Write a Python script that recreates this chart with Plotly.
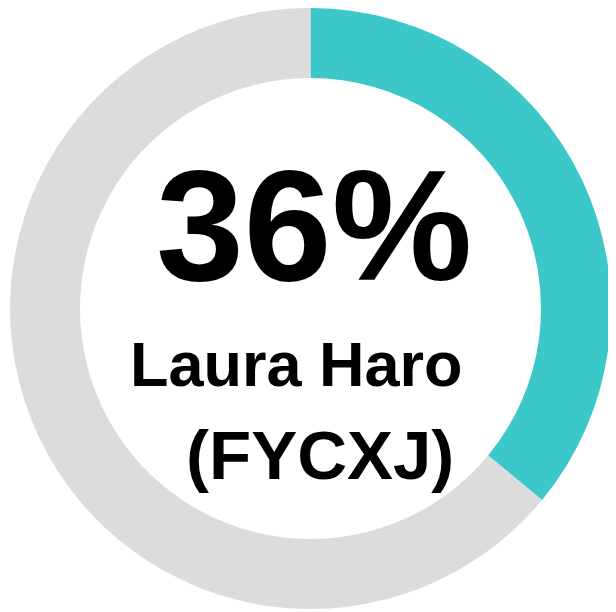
import plotly.graph_objects as go

labels = ["Laura Haro", "Remaining"]
values = [36, 64]
colors = ["#3CC8C8", "#DCDCDC"]
pct_label = "36%"
name_label = "Laura Haro"
code_label = "(FYCXJ)"

W, H = 616, 612

# pie centre (302.5, 300.5) px from top-left of the figure, outer radius 300.5
fig = go.Figure(go.Pie(
    labels=labels,
    values=values,
    hole=0.767,
    sort=False,
    direction="clockwise",
    rotation=0,
    marker=dict(colors=colors, line=dict(width=0)),
    textinfo="none",
    hoverinfo="skip",
    showlegend=False,
    domain=dict(x=[2 / W, 603 / W], y=[1 - 601 / H, 1]),
))

font = "Liberation Sans, Arial, sans-serif"
ann = [
    (pct_label, 306, 217, 158),
    (name_label, 288, 356, 63),
    (code_label, 312, 447, 69),
]
for text, px, py, size in ann:
    fig.add_annotation(
        text=f"<b>{text}</b>", x=px / W, y=1 - py / H, xref="paper", yref="paper",
        xanchor="center", yanchor="middle", showarrow=False,
        font=dict(family=font, size=size, color="#000000"),
    )

fig.update_layout(
    width=W, height=H,
    margin=dict(l=0, r=0, t=0, b=0),
    paper_bgcolor="white", plot_bgcolor="white",
)
fig.write_html("out.html")
